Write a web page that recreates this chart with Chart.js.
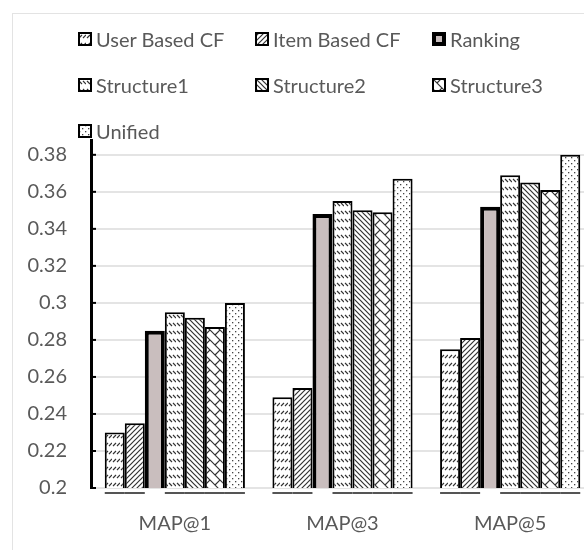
<!DOCTYPE html>
<html>
<head>
<meta charset="utf-8">
<script src="https://cdn.jsdelivr.net/npm/chart.js@4.4.1/dist/chart.umd.min.js"></script>
<style>
  html, body { margin: 0; padding: 0; background: #fff; overflow: hidden; }
  #frame { position: absolute; left: 12px; top: 13px; width: 700px; height: 700px; border: 1px solid #e3e3e3; }
  #wrap { position: absolute; left: 0; top: 0; width: 594px; height: 550px; }
  #legend { position: absolute; left: 78px; top: 27px; display: grid; grid-template-columns: 177px 177px 177px; grid-auto-rows: 46px;
            font-family: Lato, sans-serif; font-size: 20px; color: #595959; }
  #legend div { display: flex; align-items: flex-start; white-space: nowrap; }
  #legend canvas { width: 14px; height: 14px; margin: 5px 4px 0 0; }
</style>
</head>
<body>
<div id="frame"></div>
<div id="wrap"><canvas id="mapChart"></canvas></div>
<div id="legend"></div>
<script>
const categories = ['MAP@1', 'MAP@3', 'MAP@5'];
const userCF    = [0.230, 0.249, 0.275];
const itemCF    = [0.235, 0.254, 0.281];
const ranking   = [0.285, 0.348, 0.352];
const struct1   = [0.295, 0.355, 0.369];
const struct2   = [0.292, 0.350, 0.365];
const struct3   = [0.287, 0.349, 0.361];
const unified   = [0.300, 0.367, 0.380];
const yTicks    = [0.2, 0.22, 0.24, 0.26, 0.28, 0.3, 0.32, 0.34, 0.36, 0.38];

const TEXT = '#595959';
const FONT = 'Lato, sans-serif';
const RANK_FILL = '#c9bebe';

// small tiles for the Excel-like hatch fills
function tile(w, h, draw) {
    const c = document.createElement('canvas');
    c.width = w; c.height = h;
    const g = c.getContext('2d');
    g.fillStyle = '#fff'; g.fillRect(0, 0, w, h);
    g.strokeStyle = '#333'; g.fillStyle = '#444'; g.lineWidth = 1.2;
    draw(g);
    return c;
}
const tiles = {
    dashUp: tile(8, 8, g => { g.beginPath(); g.moveTo(1, 6); g.lineTo(4, 3); g.moveTo(5, 6); g.lineTo(8, 3); g.stroke(); }),
    wideUp: tile(5, 5, g => { g.beginPath(); g.moveTo(-1, 6); g.lineTo(6, -1); g.moveTo(-1, 1); g.lineTo(1, -1); g.moveTo(4, 6); g.lineTo(6, 4); g.stroke(); }),
    dashDown: tile(8, 8, g => { g.beginPath(); g.moveTo(1, 3); g.lineTo(4, 6); g.moveTo(5, 3); g.lineTo(8, 6); g.stroke(); }),
    wideDown: tile(5, 5, g => { g.beginPath(); g.moveTo(-1, -1); g.lineTo(6, 6); g.moveTo(4, -1); g.lineTo(6, 1); g.moveTo(-1, 4); g.lineTo(1, 6); g.stroke(); }),
    brick: tile(10, 10, g => { g.beginPath(); g.moveTo(0, 0); g.lineTo(10, 10); g.moveTo(5, 5); g.lineTo(10, 0); g.moveTo(-1, 9); g.lineTo(1, 11); g.stroke(); }),
    dots: tile(6, 6, g => { g.fillRect(1, 1, 1.3, 1.3); g.fillRect(4, 4, 1.3, 1.3); })
};
const ctx = document.getElementById('mapChart').getContext('2d');

const series = [
    { label: 'User Based CF', data: userCF,  fill: 'dashUp',   border: 2 },
    { label: 'Item Based CF', data: itemCF,  fill: 'wideUp',   border: 2 },
    { label: 'Ranking',       data: ranking, fill: null,       border: 4 },
    { label: 'Structure1',    data: struct1, fill: 'dashDown', border: 2 },
    { label: 'Structure2',    data: struct2, fill: 'wideDown', border: 2 },
    { label: 'Structure3',    data: struct3, fill: 'brick',    border: 2 },
    { label: 'Unified',       data: unified, fill: 'dots',     border: 2 }
];
const fillFor = (g, key) => key ? g.createPattern(tiles[key], 'repeat') : RANK_FILL;

// underline under each bar (not Ranking) + inside tick marks on the y axis
const extras = {
    id: 'extras',
    afterDatasetsDraw(chart) {
        const c = chart.ctx, area = chart.chartArea, y = chart.scales.y;
        c.save();
        c.strokeStyle = '#555'; c.lineWidth = 2;
        chart.data.datasets.forEach((ds, i) => {
            if (i === 2) return;
            chart.getDatasetMeta(i).data.forEach(bar => {
                c.beginPath();
                c.moveTo(bar.x - bar.width / 2, area.bottom + 5);
                c.lineTo(bar.x + bar.width / 2, area.bottom + 5);
                c.stroke();
            });
        });
        c.strokeStyle = '#000'; c.lineWidth = 2;
        yTicks.forEach(v => {
            const py = y.getPixelForValue(v);
            c.beginPath(); c.moveTo(area.left, py); c.lineTo(area.left + 5, py); c.stroke();
        });
        c.restore();
    }
};

new Chart(ctx, {
    type: 'bar',
    data: {
        labels: categories,
        datasets: series.map(s => ({
            label: s.label, data: s.data, backgroundColor: fillFor(ctx, s.fill),
            borderColor: '#000', borderWidth: s.border,
            categoryPercentage: 0.836, barPercentage: 1
        }))
    },
    options: {
        responsive: true, maintainAspectRatio: false, animation: false,
        layout: { padding: { top: 140, left: 0, right: 0, bottom: 0 } },
        plugins: { legend: { display: false }, tooltip: { enabled: false } },
        scales: {
            x: {
                grid: { display: false, drawTicks: false },
                border: { display: false },
                ticks: { color: TEXT, font: { family: FONT, size: 20 }, padding: 24 },
                afterFit: s => { s.height = 62; }
            },
            y: {
                min: 0.2, max: 0.388,
                afterBuildTicks: s => { s.ticks = yTicks.map(v => ({ value: v })); },
                grid: { color: '#e4e4e4', lineWidth: 2, drawTicks: false },
                border: { color: '#000', width: 3 },
                ticks: { color: TEXT, font: { family: FONT, size: 20 }, padding: 24,
                         callback: v => String(+v.toFixed(2)) },
                afterFit: s => { s.width = 91; }
            }
        }
    },
    plugins: [extras]
});

// legend in three columns
const legend = document.getElementById('legend');
series.forEach(s => {
    const item = document.createElement('div');
    const box = document.createElement('canvas');
    box.width = 14; box.height = 14;
    const b = box.getContext('2d');
    b.fillStyle = fillFor(b, s.fill);
    b.fillRect(0, 0, 14, 14);
    b.strokeStyle = '#000'; b.lineWidth = s.border;
    b.strokeRect(s.border / 2, s.border / 2, 14 - s.border, 14 - s.border);
    item.appendChild(box);
    item.appendChild(document.createTextNode(s.label));
    legend.appendChild(item);
});
</script>
</body>
</html>
